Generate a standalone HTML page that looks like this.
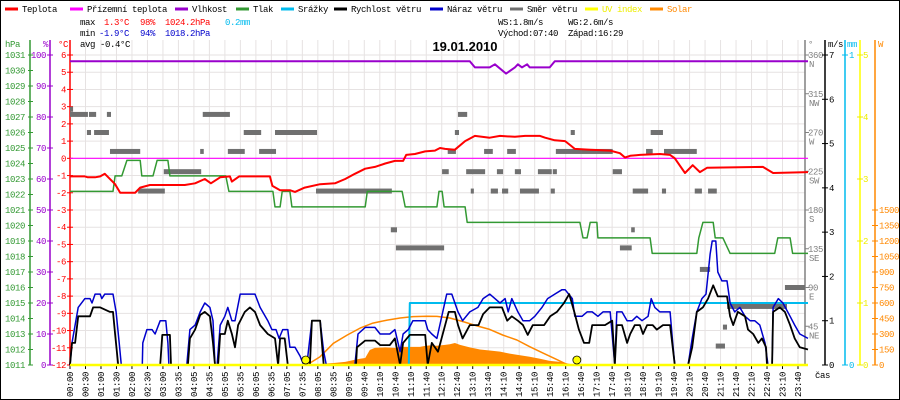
<!DOCTYPE html>
<html><head><meta charset="utf-8"><style>
html,body{margin:0;padding:0;background:#fff}
svg{display:block}
text{font-family:"Liberation Mono",monospace;font-size:9px;letter-spacing:-0.4px}
</style></head><body>
<svg id="c" width="900" height="400" viewBox="0 0 900 400" xmlns="http://www.w3.org/2000/svg">
<rect x="0.5" y="0.5" width="899" height="399" fill="#fff" stroke="#000"/>
<g id="grid"></g>
<g id="legend"></g>
<g>
<text x="80" y="25" fill="#000">max</text><text x="104" y="25" fill="#f00">1.3°C</text><text x="140" y="25" fill="#f00">98%</text><text x="165" y="25" fill="#f00">1024.2hPa</text><text x="225" y="25" fill="#00bbee">0.2mm</text>
<text x="80" y="36" fill="#000">min</text><text x="99" y="36" fill="#00c">-1.9°C</text><text x="140" y="36" fill="#00c">94%</text><text x="165" y="36" fill="#00c">1018.2hPa</text>
<text x="80" y="47" fill="#000">avg -0.4°C</text>
<text x="498" y="25" fill="#000">WS:1.8m/s</text><text x="568" y="25" fill="#000">WG:2.6m/s</text>
<text x="498" y="36" fill="#000">Východ:07:40</text><text x="568" y="36" fill="#000">Západ:16:29</text>
</g>
<text x="465" y="51" text-anchor="middle" style="font-family:'Liberation Sans',sans-serif;font-size:13px;font-weight:bold;letter-spacing:0">19.01.2010</text>
<g id="axes"></g>
<g id="marks"></g>
</svg>
<script>
const timeLabels=["00:00","00:30","01:00","01:30","02:00","02:30","03:00","03:35","04:05","04:35","05:05","05:35","06:05","06:35","07:05","07:35","08:05","08:35","09:05","09:40","10:10","10:40","11:10","11:40","12:10","12:40","13:10","13:40","14:10","14:40","15:10","15:40","16:10","16:40","17:10","17:40","18:10","18:40","19:10","19:40","20:10","20:40","21:10","21:40","22:10","22:40","23:10","23:40"];
const tempT=[0,29,35,49,59,68,88,98,127,137,156,224,244,263,275,293,312,316,330,351,390,395,410,429,439,458,488,517,537,556,576,595,615,634,650,656,673,693,712,722,732,751,771,790,819,839,868,888,917,927,946,966,976,985,1015,1054,1073,1083,1093,1112,1151,1171,1180,1200,1215,1229,1243,1352,1372,1440];
const tempV=[-1.05,-1.05,-1.1,-1.1,-1.05,-0.9,-1.5,-2.0,-2.0,-1.7,-1.55,-1.55,-1.45,-1.2,-1.45,-1.1,-1.05,-1.35,-1.05,-1.05,-1.05,-1.6,-1.85,-1.85,-1.95,-1.7,-1.5,-1.45,-1.2,-0.9,-0.6,-0.5,-0.3,-0.15,-0.15,0.2,0.25,0.4,0.45,0.6,0.55,0.5,1.0,1.3,1.2,1.3,1.25,1.3,1.3,1.2,1.05,1.0,0.77,0.55,0.5,0.45,0.3,0.05,0.15,0.2,0.25,0.2,0.0,-0.85,-0.4,-0.8,-0.55,-0.5,-0.85,-0.8];
const feelT=[0,1440];
const feelV=[0,0];
const humT=[0,780,790,819,829,851,868,874,882,892,897,936,946,1440];
const humV=[98,98,96,96,97,94,96,97,96,97,96,96,98,98];
const presT=[0,84,88,101,111,137,140,162,170,191,195,304,310,396,400,410,414,429,433,576,580,648,654,716,720,726,730,771,775,995,1001,1009,1015,1028,1030,1132,1136,1223,1227,1235,1245,1255,1259,1274,1288,1375,1381,1405,1410,1440];
const presV=[1022.2,1022.2,1023.2,1023.2,1024.2,1024.2,1023.2,1023.2,1024.2,1024.2,1023.2,1023.2,1022.2,1022.2,1021.2,1021.2,1022.2,1022.2,1021.2,1021.2,1022.2,1022.2,1021.2,1021.2,1022.2,1022.2,1021.2,1021.2,1020.2,1020.2,1019.2,1019.2,1020.2,1020.2,1019.2,1019.2,1018.2,1018.2,1019.2,1020.2,1020.2,1020.2,1019.2,1019.2,1018.2,1018.2,1019.2,1019.2,1018.2,1018.2];
const rainT=[0,661,663,1440];
const rainV=[0,0,0.2,0.2];
const windT=[0,4,10,16,39,45,59,78,84,88,94,176,180,195,197,230,234,244,254,263,273,279,283,289,293,302,308,316,322,328,341,351,361,371,386,400,406,410,419,425,468,472,488,495,558,560,576,595,605,624,634,644,650,663,693,698,706,718,739,751,757,766,780,797,806,819,843,853,862,874,884,893,903,925,937,950,964,974,984,993,1003,1013,1019,1032,1044,1058,1063,1067,1077,1087,1093,1102,1112,1118,1126,1137,1145,1157,1171,1180,1206,1214,1223,1235,1245,1255,1264,1282,1288,1294,1303,1317,1323,1333,1343,1350,1358,1360,1370,1372,1385,1395,1405,1414,1424,1440];
const windV=[0,0.5,0.5,1.1,1.1,1.3,1.3,1.2,1.2,0.7,0,0,0.68,0.68,0,0,0.6,0.8,1.13,1.2,1.1,0.5,0,0,0.7,0.7,1.0,0.7,0.4,0.9,1.2,1.3,1.2,0.9,0.7,0.6,0,0.6,0.6,0,0,1.0,1.0,0,0,0.4,0.55,0.55,0.45,0.45,0.6,0,0.5,0.68,0.68,0,0.5,0.3,1.2,1.2,0.9,0.6,0.9,0.9,1.15,1.3,1.3,1.0,1.1,1.0,0.9,0.68,0.9,0.9,1.1,1.2,1.4,1.6,1.2,0.8,0.5,0.5,0.9,0.9,0.9,1.0,0,0.9,0.9,0.5,0.7,0.9,0.9,0.7,0.9,0.9,0.8,0.9,0.9,0,0,0.4,1.2,1.3,1.5,1.8,1.55,1.55,1.1,0.9,1.2,1.1,0.8,0.7,0.5,0.6,0.4,0,0,1.2,1.3,1.2,0.9,0.6,0.4,0.35];
const gustT=[0,4,10,16,29,39,43,49,59,62,68,84,90,96,100,141,142,150,160,166,176,187,191,193,228,234,244,254,263,273,279,283,287,293,302,308,316,322,332,361,371,386,394,402,408,415,425,429,439,449,456,462,472,488,495,500,556,562,576,595,605,624,634,644,650,660,669,693,698,706,716,735,745,757,766,780,796,806,819,829,839,849,855,862,874,884,897,907,921,932,946,960,966,980,985,999,1009,1019,1030,1040,1054,1063,1067,1077,1087,1097,1106,1116,1128,1134,1141,1151,1171,1176,1180,1206,1214,1223,1233,1241,1249,1253,1260,1264,1272,1282,1288,1297,1307,1317,1327,1336,1346,1356,1362,1370,1372,1382,1391,1405,1414,1424,1440];
const gustV=[0,0.5,0.9,1.3,1.5,1.5,1.4,1.6,1.6,1.5,1.6,1.6,1.2,0.5,0,0,0.5,0.8,0.8,0.7,1.0,1.0,0.5,0,0,0.8,0.9,1.2,1.4,1.3,1.0,0,0,0.9,1.1,1.3,1.0,1.0,1.6,1.6,1.3,1.0,0.8,0.8,0.6,0.8,0.8,0.4,0.4,0.2,0,0,1.0,1.0,0.3,0,0,0.7,0.85,0.85,0.7,0.7,0.8,0.3,0.7,0.8,1.0,1.0,0.8,0.7,0.6,1.6,1.6,1.2,1.0,1.2,1.3,1.5,1.6,1.5,1.4,1.5,1.2,1.5,1.2,1.0,1.0,1.1,1.3,1.5,1.6,1.7,1.7,1.5,1.1,1.1,1.2,1.2,1.1,1.2,1.2,0,1.2,1.2,1.0,1.0,1.1,1.0,1.1,1.5,1.3,1.2,1.2,0.5,0,0,0.6,1.2,1.5,1.6,2.5,2.8,2.8,2.1,1.9,1.9,1.4,1.2,1.3,1.1,1.0,1.0,0.9,0.5,0,0,1.3,1.5,1.4,1.1,0.9,0.7,0.6];
const solarT=[458,468,488,517,537,556,566,576,585,595,615,634,644,663,683,693,702,716,732,741,751,761,780,800,819,839,858,878,897,917,936,956,976,985];
const solarV=[0,5,10,20,30,50,60,68,145,165,170,165,175,175,175,185,190,187,195,200,213,195,170,150,140,130,110,95,80,60,40,30,10,0];
const solarMaxT=[462,488,514,541,566,591,619,644,669,697,716,741,767,794,819,844,872,897,923,951,972];
const solarMaxV=[0,80,210,290,357,405,435,455,468,472,470,455,420,378,345,290,242,177,115,50,0];
const uvT=[0,1440];
const uvV=[0,0];
const sunEvents=[460,989];
const dirFrom=[0,0,37,72,33,47,78,183,133,259,254,308,339,369,400,480,626,636,757,751,737,808,853,948,977,1133,1124,1159,726,773,833,868,913,942,1059,782,821,843,878,938,1098,1155,1219,1245,1095,1073,1229,1395,1282,1274,1260];
const dirTo=[6,35,51,80,41,76,137,256,185,312,261,341,373,402,482,628,638,730,775,759,753,825,870,1059,985,1157,1137,1223,739,810,845,880,940,950,1077,788,835,855,915,946,1128,1163,1233,1262,1102,1096,1249,1434,1399,1282,1278];
const dirDeg=[297,291,291,291,270,270,248,224.5,202,291,248,248,270,248,270,202,157,136,291,270,248,248,248,248,270,270,248,248,224.5,224.5,224.5,224.5,224.5,224.5,224.5,202,202,202,202,202,202,202,202,202,157,136,111,90,68,44,22];

const NS='http://www.w3.org/2000/svg';
const X=m=>70+m*738/1440;
const yT=t=>365-(t+12)*310/18;
const yH=h=>365-h*3.1;
const yP=p=>365-(p-1011)*15.5;
const yV=v=>365-v*310/7;
const yMM=v=>365-v*310;
const yW=w=>365-w*155/1500;
const yD=d=>365-d*310/360;
const yUV=u=>365-u*62;
function el(tag,attrs,parent,txt){const e=document.createElementNS(NS,tag);for(const k in attrs)e.setAttribute(k,attrs[k]);if(txt!==undefined)e.textContent=txt;parent.appendChild(e);return e;}
const grid=document.getElementById('grid'),axes=document.getElementById('axes'),marks=document.getElementById('marks'),legend=document.getElementById('legend');
// grid
for(let t=-12;t<=6;t++){const l=el('line',{x1:70,x2:805,y1:yT(t),y2:yT(t),stroke:'#e6e2e2'},grid);

}
timeLabels.forEach((lb,i)=>{const x=70+i*(728/47);
const l=el('line',{x1:x,x2:x,y1:40,y2:365,stroke:'#e6e2e2'},grid);


const tk=el('line',{x1:x,x2:x,y1:365,y2:369,stroke:'#000'},axes);


const tx=el('text',{x:x+3,y:372,'text-anchor':'end',transform:`rotate(-90 ${x+3} 372)`,fill:'#000'},axes,lb);

});
// legend
const legItems=[["Teplota","#f00",5],["Přízemní teplota","#f0f",70],["Vlhkost","#90c",175],["Tlak","#393",236],["Srážky","#0be",281],["Rychlost větru","#000",334],["Náraz větru","#00c",430],["Směr větru","#707070",510],["UV index","#ff0",585],["Solar","#f80",650]];
legItems.forEach(([n,c,x])=>{const g=el('g',{},legend);


el('line',{x1:x,x2:x+13,y1:9,y2:9,stroke:c,'stroke-width':3},g);
el('text',{x:x+17,y:12,fill:c==='#ff0'?'#ee0':(c==='#f0f'||c==='#00c'||c==='#000'||c==='#f00'||c==='#393'||c==='#90c'||c==='#0be'||c==='#707070'?'#000':c)},g,n);});
// axes
function vaxis(x,color,y1,name){const l=el('line',{x1:x,x2:x,y1:y1,y2:365,stroke:color,'stroke-width':1.5},axes);

}
vaxis(30,'#393',40,'pressure-axis');vaxis(50,'#90c',40,'humidity-axis');vaxis(70,'#f00',40,'temperature-axis');
vaxis(805,'#808080',40,'direction-axis');vaxis(825,'#000',40,'wind-axis');vaxis(845,'#0be',40,'rain-axis');vaxis(860,'#ff0',40,'uv-axis');vaxis(875,'#f80',40,'solar-axis');
const titles=[["hPa",5,'#393'],["%",43,'#90c'],["°C",58,'#f00'],["°",808,'#808080'],["m/s",828,'#000'],["mm",847,'#0be'],["W",878,'#f80']];
titles.forEach(([t,x,c])=>{const e=el('text',{x:x,y:47,fill:c},axes,t);

});
for(let p=1011;p<=1031;p++){const y=yP(p);el('line',{x1:28,x2:33,y1:y,y2:y,stroke:'#393'},axes);
const e=el('text',{x:25,y:y+3,'text-anchor':'end',fill:'#393'},axes,p);

}
for(let h=0;h<=100;h+=10){const y=yH(h);el('line',{x1:47,x2:53,y1:y,y2:y,stroke:'#90c'},axes);
const e=el('text',{x:46,y:y+3,'text-anchor':'end',fill:'#90c'},axes,h);

}
for(let t=-12;t<=6;t++){const y=yT(t);el('line',{x1:67,x2:73,y1:y,y2:y,stroke:'#f00'},axes);
const e=el('text',{x:66,y:y+3,'text-anchor':'end',fill:'#f00'},axes,t);

}
const dirNames=["","NE","E","SE","S","SW","W","NW","N"];
for(let d=45;d<=360;d+=45){const y=yD(d);el('line',{x1:805,x2:809,y1:y,y2:y,stroke:'#808080'},axes);
const e=el('text',{x:808,y:y+3,fill:'#808080'},axes,d);


el('text',{x:809,y:y+12,fill:'#808080'},axes,dirNames[d/45]);}
for(let v=0;v<=7;v++){const y=yV(v);el('line',{x1:822,x2:828,y1:y,y2:y,stroke:'#000'},axes);
const e=el('text',{x:829,y:y+3,fill:'#000'},axes,v);

}
[0,1].forEach(v=>{const y=yMM(v);el('line',{x1:842,x2:848,y1:y,y2:y,stroke:'#0be'},axes);el('text',{x:849,y:y+3,fill:'#0be'},axes,v);});
for(let u=0;u<=5;u++){const y=yUV(u);el('line',{x1:857,x2:863,y1:y,y2:y,stroke:'#ee0'},axes);el('text',{x:863,y:y+3,fill:'#ee0'},axes,u);}
for(let w=0;w<=1500;w+=150){const y=yW(w);el('line',{x1:872,x2:878,y1:y,y2:y,stroke:'#f80'},axes);el('text',{x:879,y:y+3,fill:'#f80'},axes,w);}
const cas=el('text',{x:815,y:378,fill:'#000'},axes,'čas');


// series
function pts(T,V,yf){return T.map((t,i)=>X(t).toFixed(1)+','+yf(V[i]).toFixed(1)).join(' ');}
const sa=el('polygon',{points:X(solarT[0])+',365 '+pts(solarT,solarV,yW)+' '+X(solarT[solarT.length-1])+',365',fill:'#f80'},marks);


dirFrom.forEach((f,i)=>{const r=el('rect',{x:X(f),y:yD(dirDeg[i])-2.5,width:Math.max(3,X(dirTo[i])-X(f)),height:5,fill:'#707070'},marks);

});
function line(T,V,yf,c,w,name){const p=el('polyline',{points:pts(T,V,yf),fill:'none',stroke:c,'stroke-width':w,'stroke-linejoin':'round'},marks);

}
line(solarMaxT,solarMaxV,yW,'#f80',1.5,'solar-max-line');
line(feelT,feelV,yT,'#f0f',1.2,'ground-temperature-line');
line(humT,humV,yH,'#90c',2,'humidity-line');
line(presT,presV,yP,'#393',1.5,'pressure-line');
line(tempT,tempV,yT,'#f00',2,'temperature-line');
line(rainT,rainV,yMM,'#0be',2,'rain-line');
line(gustT,gustV,yV,'#00c',1.5,'gust-line');
line(windT,windV,yV,'#000',1.8,'wind-speed-line');
line(uvT,uvV,yUV,'#ff0',2.5,'uv-line');
sunEvents.forEach(m=>{const c=el('circle',{cx:X(m),cy:360,r:4,fill:'#ff0',stroke:'#000','stroke-width':0.8},marks);

});
</script>
</body></html>
